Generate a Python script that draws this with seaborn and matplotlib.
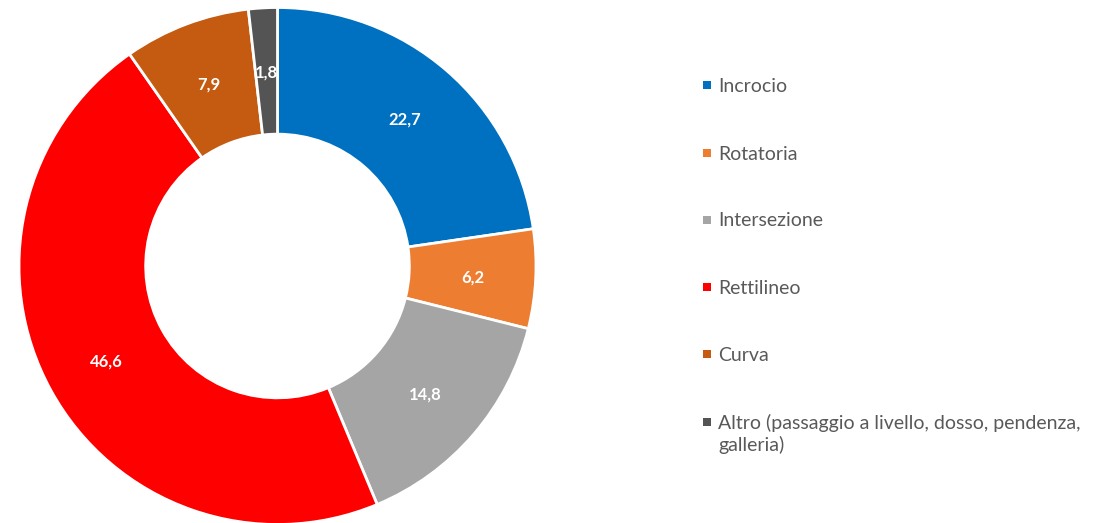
import matplotlib
matplotlib.use("Agg")
import matplotlib.pyplot as plt
import seaborn as sns

categories = ["Incrocio", "Rotatoria", "Intersezione", "Rettilineo", "Curva",
              "Altro (passaggio a livello, dosso, pendenza,\ngalleria)"]
values = [22.7, 6.2, 14.8, 46.6, 7.9, 1.8]
value_labels = ["22,7", "6,2", "14,8", "46,6", "7,9", "1,8"]
colors = ["#0070C0", "#ED7D31", "#A5A5A5", "#FF0000", "#C55A11", "#545454"]

sns.set_theme(style="white")
plt.rcParams["font.family"] = ["Lato", "DejaVu Sans"]

W, H = 1107, 523
fig = plt.figure(figsize=(W / 100, H / 100), dpi=100)
fig.patch.set_facecolor("white")

cx, cy, r = 277.5, 266, 258.5
ax = fig.add_axes([(cx - r) / W, (H - cy - r) / H, 2 * r / W, 2 * r / H])
wedges, texts = ax.pie(
    values, colors=colors, startangle=90, counterclock=False,
    radius=1.0, labels=value_labels, labeldistance=0.755,
    wedgeprops=dict(width=0.49, edgecolor="white", linewidth=2),
    textprops=dict(color="white", fontsize=12, fontweight="bold",
                   ha="center", va="center_baseline"),
)
ax.set_xlim(-1, 1)
ax.set_ylim(-1, 1)
ax.set_aspect("equal")
ax.axis("off")

# legend drawn manually in pixel coordinates
lax = fig.add_axes([0, 0, 1, 1])
lax.set_xlim(0, W)
lax.set_ylim(H, 0)
lax.axis("off")
leg_y = [84.5, 153, 219.5, 287, 354, 422]
for y, lab, col in zip(leg_y, categories, colors):
    lax.scatter([706.5], [y], marker="s", s=27, color=col, linewidths=0)
    if "\n" in lab:
        lax.text(718, y - 8.5, lab, fontsize=14, color="#595959",
                 ha="left", va="top", linespacing=1.32)
    else:
        lax.text(718, y + 7, lab, fontsize=14, color="#595959",
                 ha="left", va="baseline")

fig.savefig("out.png", dpi=100, facecolor="white")
